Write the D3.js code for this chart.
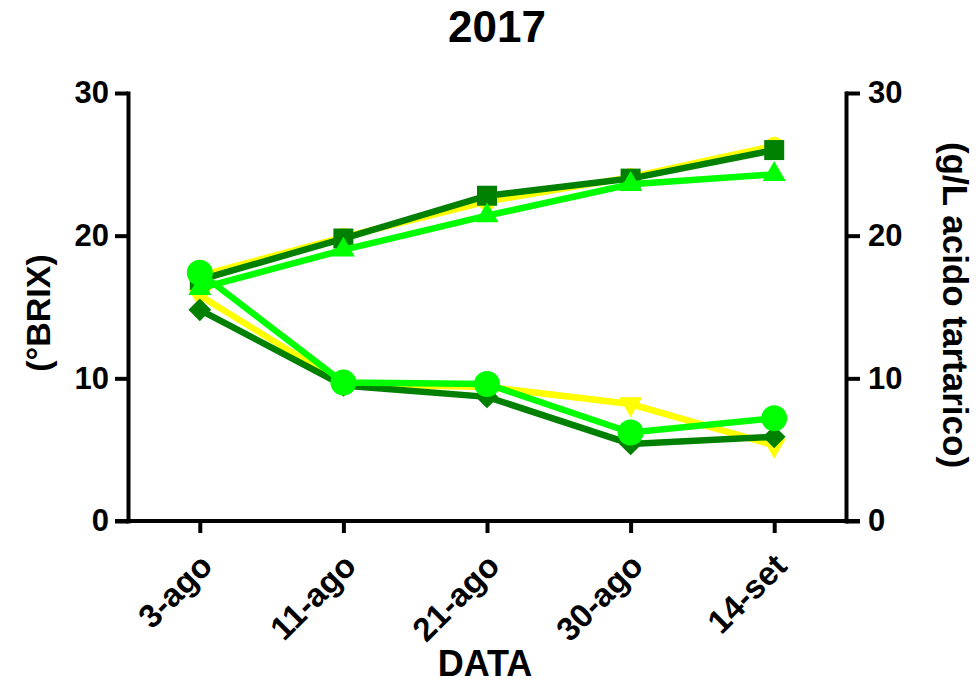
<!DOCTYPE html>
<html>
<head>
<meta charset="utf-8">
<script src="https://cdn.jsdelivr.net/npm/d3@7"></script>
<style>
  body { margin: 0; background: #fff; }
  text { font-family: "Liberation Sans", Arial, sans-serif; font-weight: bold; fill: #000; }
  .axis path, .axis line { stroke: #000; stroke-width: 4; }
</style>
</head>
<body>
<svg id="chart" width="979" height="684"></svg>
<script>
// data
const dates = ['3-ago', '11-ago', '21-ago', '30-ago', '14-set'];
const yTicks = [0, 10, 20, 30];

// sugar (°BRIX), left axis
const brixYellow = [17.2, 19.9, 22.4, 24.1, 26.3];
const brixDark = [16.9, 19.8, 22.8, 24.0, 26.0];
const brixGreen = [16.3, 19.0, 21.4, 23.6, 24.3];

// acidity (g/L acido tartarico), right axis
const acidYellow = [15.8, 9.6, 9.4, 8.2, 5.3];
const acidDark = [14.8, 9.5, 8.7, 5.4, 5.9];
const acidGreen = [17.4, 9.7, 9.6, 6.2, 7.2];

const yellow = '#ffff00';
const dark = '#008000';
const green = '#00ff00';

const margin = { top: 93, bottom: 163, left: 128, right: 133 };
const width = 979;
const height = 684;

const svg = d3.select('#chart');

const scales = {
  x: d3.scalePoint().domain(dates).range([margin.left, width - margin.right]).padding(0.5),
  yLeft: d3.scaleLinear().domain([0, 30]).range([height - margin.bottom, margin.top]),
  yRight: d3.scaleLinear().domain([0, 30]).range([height - margin.bottom, margin.top])
};

// draw order: yellow at the back, bright green on top
const series = [
  { values: brixYellow, axis: 'yLeft', color: yellow, shape: d3.symbolCircle, size: 260, rot: 0 },
  { values: acidYellow, axis: 'yRight', color: yellow, shape: d3.symbolTriangle, size: 230, rot: 180 },
  { values: brixDark, axis: 'yLeft', color: dark, shape: d3.symbolSquare, size: 400, rot: 0 },
  { values: acidDark, axis: 'yRight', color: dark, shape: d3.symbolSquare, size: 260, rot: 45 },
  { values: brixGreen, axis: 'yLeft', color: green, shape: d3.symbolTriangle, size: 230, rot: 0 },
  { values: acidGreen, axis: 'yRight', color: green, shape: d3.symbolCircle, size: 530, rot: 0 }
];

drawAxis();
drawSeries();
drawTitles();

function drawAxis() {
  const bottom = height - margin.bottom;

  const xAxis = d3.axisBottom(scales.x).tickSizeOuter(0).tickSizeInner(12).tickFormat('');
  const xGroup = svg.append('g').attr('class', 'axis')
    .attr('transform', translate(0, bottom))
    .call(xAxis);
  xGroup.select('.domain').remove();
  // x axis line running under both y axis zero ticks
  xGroup.append('line')
    .attr('x1', margin.left - 13).attr('x2', width - margin.right + 14)
    .attr('y1', 0).attr('y2', 0);

  xGroup.selectAll('.tick').append('text')
    .attr('transform', 'translate(14,47) rotate(-45)')
    .attr('text-anchor', 'end')
    .style('font-size', '33px')
    .text(d => d);

  const yLeftAxis = d3.axisLeft(scales.yLeft).tickValues(yTicks).tickSizeOuter(0).tickSizeInner(13).tickPadding(6);
  const yl = svg.append('g').attr('class', 'axis')
    .attr('transform', translate(margin.left, 0))
    .call(yLeftAxis);
  yl.selectAll('text').style('font-size', '31px');

  const yRightAxis = d3.axisRight(scales.yRight).tickValues(yTicks).tickSizeOuter(0).tickSizeInner(14).tickPadding(8);
  const yr = svg.append('g').attr('class', 'axis')
    .attr('transform', translate(width - margin.right, 0))
    .call(yRightAxis);
  yr.selectAll('text').style('font-size', '31px');

  svg.selectAll('.axis .domain').attr('fill', 'none').attr('stroke-linecap', 'square');
}

function drawSeries() {
  const group = svg.append('g').attr('id', 'series');

  series.forEach(s => {
    const y = scales[s.axis];
    const line = d3.line()
      .x((d, i) => scales.x(dates[i]))
      .y(d => y(d));

    const g = group.append('g');
    g.append('path')
      .datum(s.values)
      .attr('fill', 'none')
      .attr('stroke', s.color)
      .attr('stroke-width', 6.5)
      .attr('d', line);

    g.selectAll('path.marker')
      .data(s.values)
      .enter()
      .append('path')
      .attr('class', 'marker')
      .attr('fill', s.color)
      .attr('d', d3.symbol().type(s.shape).size(s.size))
      .attr('transform', (d, i) => translate(scales.x(dates[i]), y(d)) + ' rotate(' + s.rot + ')');
  });
}

function drawTitles() {
  svg.append('text')
    .attr('x', 497).attr('y', 42)
    .attr('text-anchor', 'middle')
    .style('font-size', '44px')
    .text('2017');

  svg.append('text')
    .attr('x', 485).attr('y', 676)
    .attr('text-anchor', 'middle')
    .style('font-size', '36px')
    .text('DATA');

  const yMiddle = (margin.top + height - margin.bottom) / 2;

  svg.append('g')
    .attr('transform', translate(50, yMiddle + 6))
    .append('text')
    .attr('text-anchor', 'middle')
    .attr('transform', 'rotate(-90)')
    .style('font-size', '34px')
    .text('(°BRIX)');

  svg.append('g')
    .attr('transform', translate(943, yMiddle - 2))
    .append('text')
    .attr('text-anchor', 'middle')
    .attr('transform', 'rotate(90)')
    .style('font-size', '35px')
    .text('(g/L acido tartarico)');
}

function translate(x, y) {
  return 'translate(' + String(x) + ',' + String(y) + ')';
}
</script>
</body>
</html>
